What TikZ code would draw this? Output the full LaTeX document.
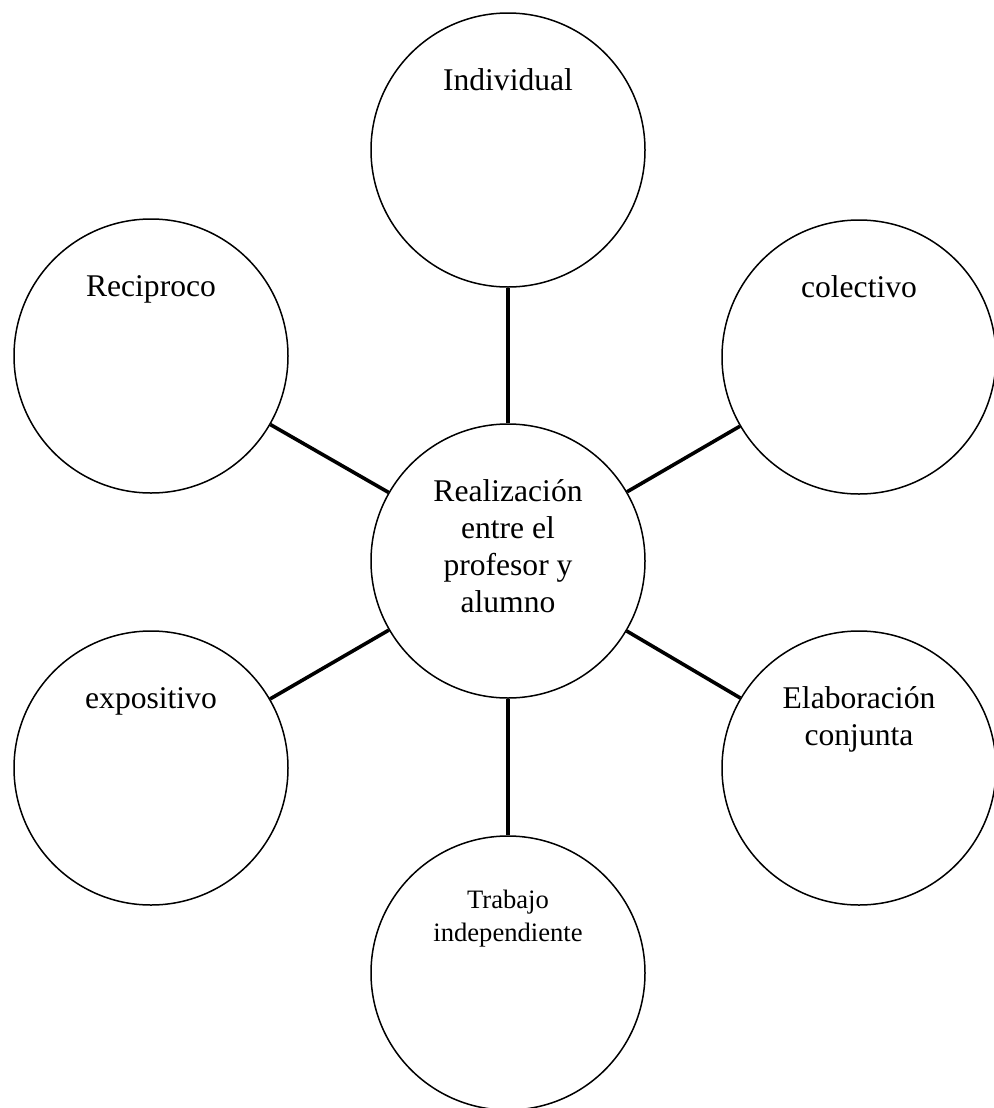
\documentclass[tikz,border=0pt]{standalone}
\usepackage{fontspec}
\setmainfont{Liberation Serif}
% stacked, centred lines whose baseline is that of the first line
\newcommand{\bubbletext}[1]{\begin{tabular}[t]{@{}c@{}}#1\end{tabular}}
\begin{document}
\begin{tikzpicture}[x=0.5pt,y=-0.5pt,
  bubble/.style={circle, draw, line width=0.75pt, minimum size=137pt, inner sep=0pt},
  spoke/.style={line width=1.8pt},
  tag/.style={anchor=base, yshift=29.75pt, inner sep=0pt, font=\fontsize{15.8}{18.5}\selectfont},
  smalltag/.style={anchor=base, yshift=32.5pt, inner sep=0pt, font=\fontsize{13.3}{16.5}\selectfont}]
\useasboundingbox (0,0) rectangle (994,1108);

% hub and surrounding circles
\node[bubble] (hub) at (508,561) {};
\node[bubble] (ind) at (508,150) {};
\node[bubble] (rec) at (151,356) {};
\node[bubble] (col) at (859,357) {};
\node[bubble] (exp) at (151,768) {};
\node[bubble] (ela) at (859,768) {};
\node[bubble] (tra) at (508,973) {};

% texts, first baseline a fixed distance above each centre
\node[tag] (hubt) at (hub.center) {\bubbletext{Realización\\entre el\\profesor y\\alumno}};
\node[tag] (indt) at (ind.center) {\bubbletext{Individual}};
\node[tag] (rect) at (rec.center) {\bubbletext{Reciproco}};
\node[tag] (colt) at (col.center) {\bubbletext{colectivo}};
\node[tag] (expt) at (exp.center) {\bubbletext{expositivo}};
\node[tag] (elat) at (ela.center) {\bubbletext{Elaboración\\conjunta}};
\node[smalltag] (trat) at (tra.center) {\bubbletext{Trabajo\\independiente}};

% spokes
\draw[spoke] (hub) -- (ind);
\draw[spoke] (hub) -- (rec);
\draw[spoke] (hub) -- (col);
\draw[spoke] (hub) -- (exp);
\draw[spoke] (hub) -- (ela);
\draw[spoke] (hub) -- (tra);
\end{tikzpicture}
\end{document}
